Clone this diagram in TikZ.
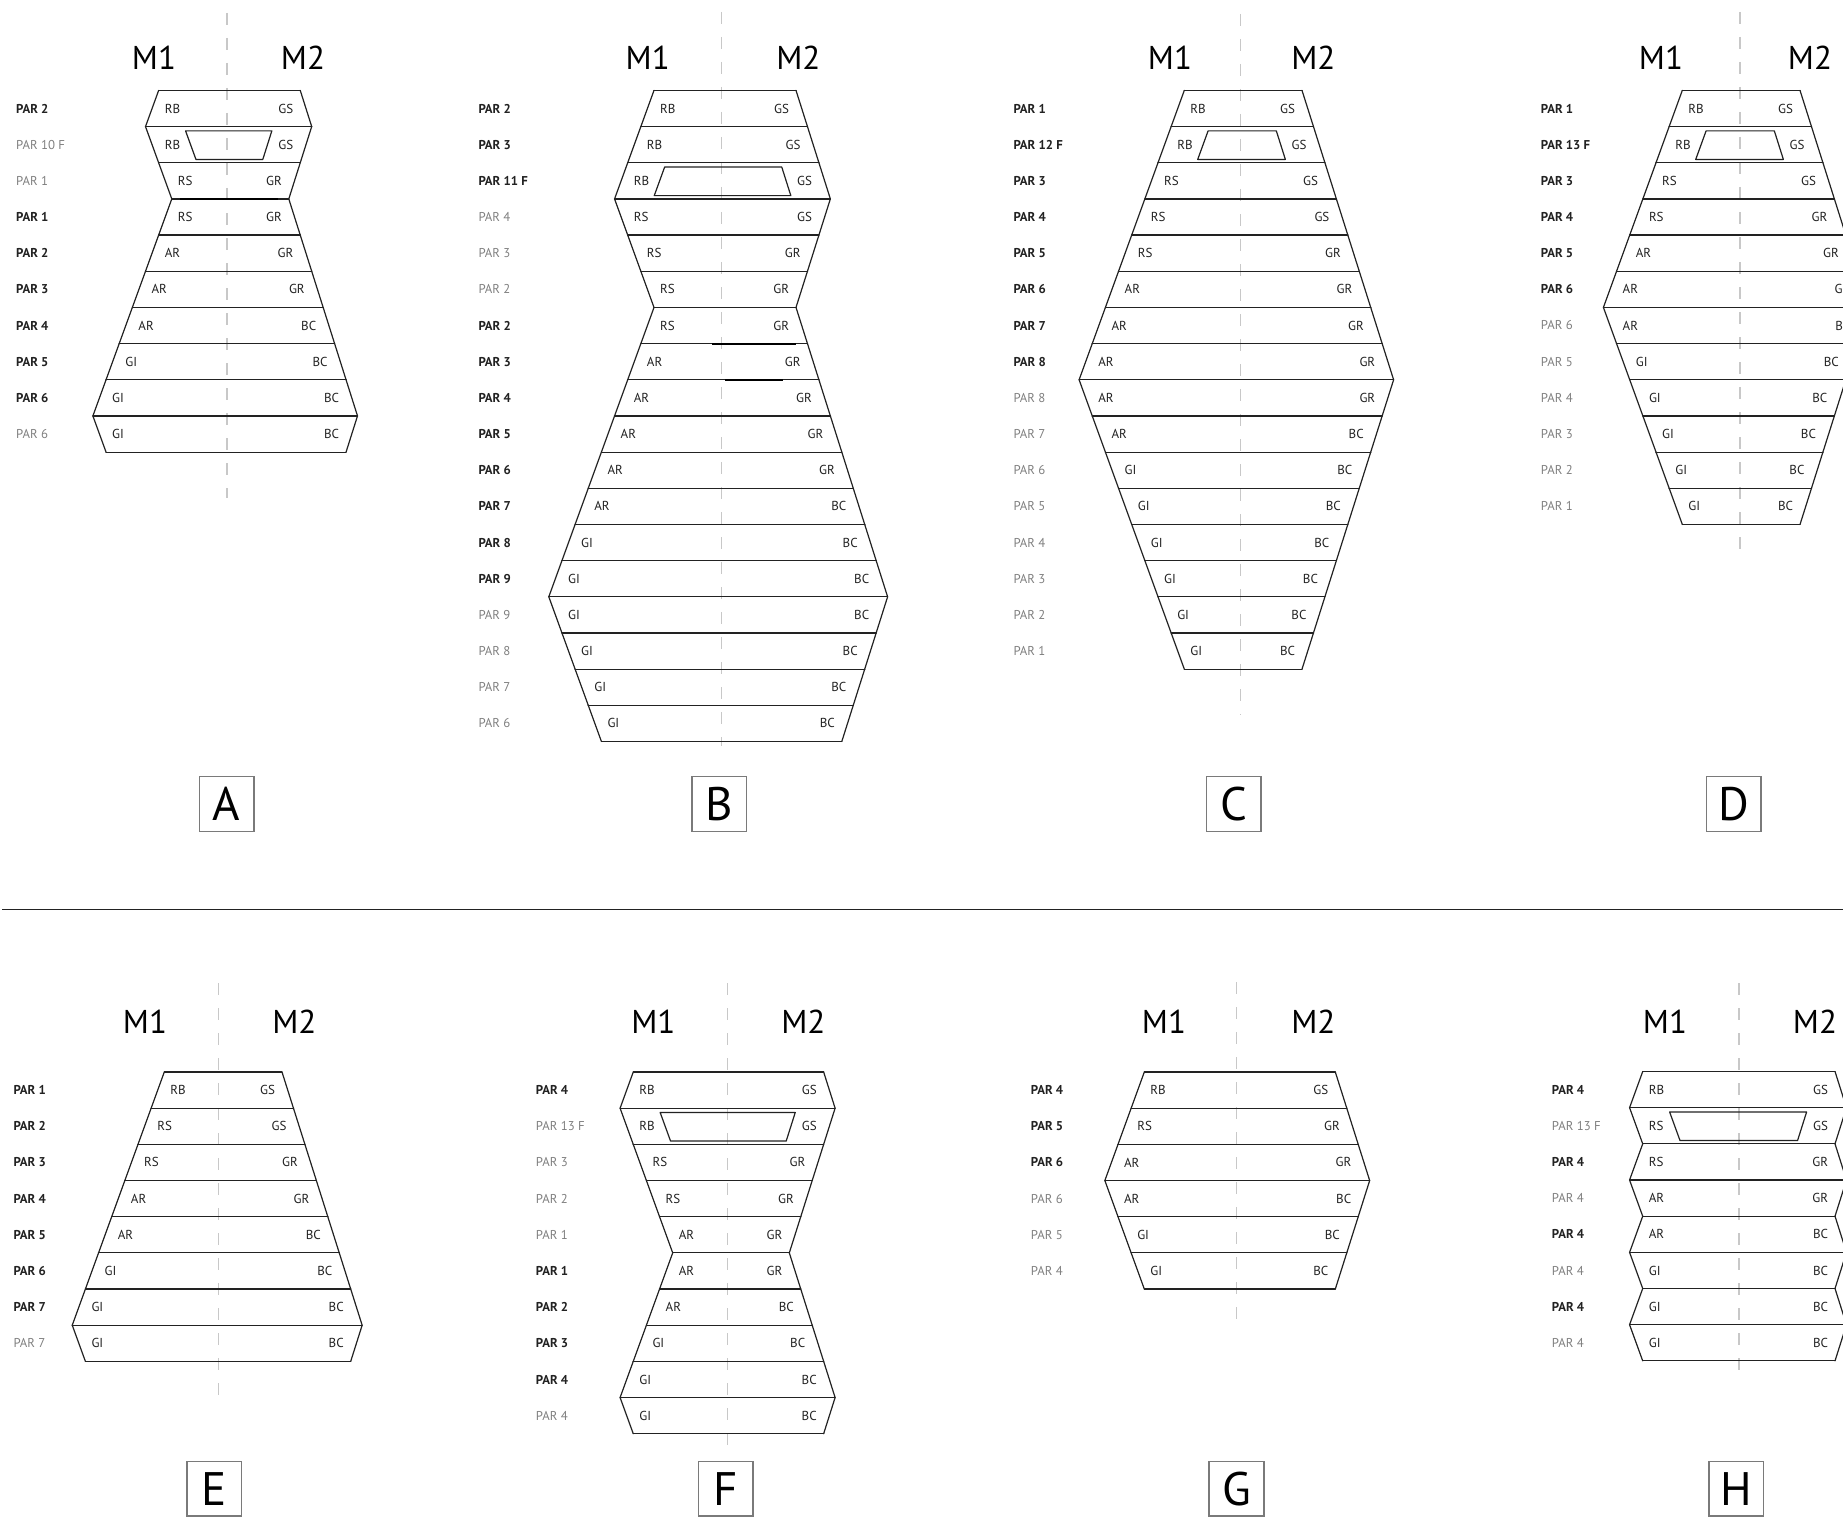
\documentclass[tikz,border=0pt]{standalone}
\usepackage{fontspec}
\setmainfont{PT Sans}
\usetikzlibrary{calc}
\definecolor{ink}{HTML}{222222}
\definecolor{labgrey}{HTML}{808080}
\definecolor{dashgrey}{HTML}{C8C8C8}
\definecolor{boxgrey}{HTML}{7A7A7A}
\def\stepL{13.15}
\def\stepR{11.45}
\def\rowh{36.17}
\def\txtgap{12.5}
\def\ft{0.119}
\def\fb{0.909}
\def\fin{38.5}
\newcommand\drawpanel[5]{%
  \foreach \lv [count=\i from 0] in {#5} {
    \coordinate (#1L\i) at ({#2-\lv*\stepL},{#4+\i*\rowh});
    \coordinate (#1R\i) at ({#3+\lv*\stepR},{#4+\i*\rowh});
    \draw[rowline] (#1L\i) -- (#1R\i);
    \ifnum\i>0
      \pgfmathtruncatemacro\j{\i-1}
      \draw[rowline] (#1L\j) -- (#1L\i);
      \draw[rowline] (#1R\j) -- (#1R\i);
    \fi
  }%
}
\newcommand\rowtexts[4]{%
  \foreach \lab/\st/\lt/\rt [count=\i from 0] in {#4} {
    \pgfmathtruncatemacro\k{\i+1}
    \node[\st] (#1P\i) at ({#2},{#3+(\i+0.5)*\rowh}) {\lab};
    \node[intext,anchor=west] (#1A\i) at ($(#1L\i)!0.5!(#1L\k)+(\txtgap,0)$) {\lt};
    \node[intext,anchor=east] (#1B\i) at ($(#1R\i)!0.5!(#1R\k)+(-\txtgap,0)$) {\rt};
  }%
}
\newcommand\fault[3]{%
  \draw[rowline] ($(#1L#2)!\ft!(#1L#3)+(\fin,0)$) -- ($(#1R#2)!\ft!(#1R#3)+(-\fin,0)$)
    -- ($(#1R#2)!\fb!(#1R#3)+(-\fin,0)$) -- ($(#1L#2)!\fb!(#1L#3)+(\fin,0)$) -- cycle;
}
\begin{document}
\begin{tikzpicture}[x=1pt,y=-1pt,
  rowline/.style={draw=ink,line width=1.2pt,line cap=round,line join=round},
  darkseg/.style={draw=black,line width=2pt},
  centerdash/.style={draw=dashgrey,line width=1.5pt,dash pattern=on 12pt off 13pt},
  parb/.style={anchor=west,inner sep=0pt,text=ink,font=\fontsize{12.8}{14}\selectfont\bfseries},
  parg/.style={anchor=west,inner sep=0pt,text=labgrey,font=\fontsize{12.8}{14}\selectfont},
  intext/.style={inner sep=0pt,text=ink,font=\fontsize{13}{14}\selectfont},
  mlab/.style={inner sep=0pt,text=black,font=\fontsize{33}{36}\selectfont},
  letterbox/.style={draw=boxgrey,line width=1.5pt,minimum width=54.6pt,minimum height=54.6pt,inner sep=0pt,text=black,font=\fontsize{47}{50}\selectfont},
  sepline/.style={draw=ink,line width=1.3pt}]
\useasboundingbox (0,0) rectangle (1843,1517);
\clip (0,0) rectangle (1843,1517);
\fill[white] (0,0) rectangle (1843,1517);

% centre dashed lines
\draw[centerdash] (227,13) -- (227,498);
\draw[centerdash] (721.7,12) -- (721.7,746);
\draw[centerdash] (1240.7,14) -- (1240.7,715);
\draw[centerdash] (1740,12) -- (1740,558);
\draw[centerdash] (218.3,983) -- (218.3,1402);
\draw[centerdash] (727.3,983) -- (727.3,1454);
\draw[centerdash] (1236.7,982) -- (1236.7,1327);
\draw[centerdash] (1739,983) -- (1739,1376);

% separator
\draw[sepline] (2.4,909.8) -- (1843,909.8);

% M labels
\node[mlab] (AM1) at (154,58) {M1};   \node[mlab] (AM2) at (303,58) {M2};
\node[mlab] (BM1) at (647.7,58) {M1}; \node[mlab] (BM2) at (798.3,58) {M2};
\node[mlab] (CM1) at (1170,58) {M1};  \node[mlab] (CM2) at (1313.3,58) {M2};
\node[mlab] (DM1) at (1661,58) {M1};  \node[mlab] (DM2) at (1810,58) {M2};
\node[mlab] (EM1) at (145,1022) {M1}; \node[mlab] (EM2) at (294.3,1022) {M2};
\node[mlab] (FM1) at (653.3,1022) {M1}; \node[mlab] (FM2) at (803.3,1022) {M2};
\node[mlab] (GM1) at (1164,1022) {M1}; \node[mlab] (GM2) at (1313.3,1022) {M2};
\node[mlab] (HM1) at (1665,1022) {M1}; \node[mlab] (HM2) at (1815,1022) {M2};

% Panel A
\drawpanel{A}{171.8}{288.8}{90.4}{1,2,1,0,1,2,3,4,5,6,5}
\fault{A}{1}{2}
\draw[darkseg] (180,198.9) -- (278.3,198.9);
\rowtexts{A}{16}{90.4}{PAR 2/parb/RB/GS, PAR 10 F/parg/RB/GS, PAR 1/parg/RS/GR, PAR 1/parb/RS/GR, PAR 2/parb/AR/GR, PAR 3/parb/AR/GR, PAR 4/parb/AR/BC, PAR 5/parb/GI/BC, PAR 6/parb/GI/BC, PAR 6/parg/GI/BC}

% Panel B
\drawpanel{B}{654}{796}{90.4}{0,1,2,3,2,1,0,1,2,3,4,5,6,7,8,7,6,5,4}
\fault{B}{2}{3}
\draw[darkseg] (711.7,343.6) -- (796,343.6);
\draw[darkseg] (725,379.8) -- (783.3,379.8);
\rowtexts{B}{478.3}{90.4}{PAR 2/parb/RB/GS, PAR 3/parb/RB/GS, PAR 11 F/parb/RB/GS, PAR 4/parg/RS/GS, PAR 3/parg/RS/GR, PAR 2/parg/RS/GR, PAR 2/parb/RS/GR, PAR 3/parb/AR/GR, PAR 4/parb/AR/GR, PAR 5/parb/AR/GR, PAR 6/parb/AR/GR, PAR 7/parb/AR/BC, PAR 8/parb/GI/BC, PAR 9/parb/GI/BC, PAR 9/parg/GI/BC, PAR 8/parg/GI/BC, PAR 7/parg/GI/BC, PAR 6/parg/GI/BC}

% Panel C
\drawpanel{C}{1184.3}{1302}{90.4}{0,1,2,3,4,5,6,7,8,7,6,5,4,3,2,1,0}
\fault{C}{1}{2}
\rowtexts{C}{1013.3}{90.4}{PAR 1/parb/RB/GS, PAR 12 F/parb/RB/GS, PAR 3/parb/RS/GS, PAR 4/parb/RS/GS, PAR 5/parb/RS/GR, PAR 6/parb/AR/GR, PAR 7/parb/AR/GR, PAR 8/parb/AR/GR, PAR 8/parg/AR/GR, PAR 7/parg/AR/BC, PAR 6/parg/GI/BC, PAR 5/parg/GI/BC, PAR 4/parg/GI/BC, PAR 3/parg/GI/BC, PAR 2/parg/GI/BC, PAR 1/parg/GI/BC}

% Panel D
\drawpanel{D}{1682.3}{1800}{90.4}{0,1,2,3,4,5,6,5,4,3,2,1,0}
\fault{D}{1}{2}
\rowtexts{D}{1540.7}{90.4}{PAR 1/parb/RB/GS, PAR 13 F/parb/RB/GS, PAR 3/parb/RS/GS, PAR 4/parb/RS/GR, PAR 5/parb/AR/GR, PAR 6/parb/AR/GR, PAR 6/parg/AR/BC, PAR 5/parg/GI/BC, PAR 4/parg/GI/BC, PAR 3/parg/GI/BC, PAR 2/parg/GI/BC, PAR 1/parg/GI/BC}

% Panel E
\drawpanel{E}{164.3}{282}{1072}{0,1,2,3,4,5,6,7,6}
\rowtexts{E}{13.3}{1072}{PAR 1/parb/RB/GS, PAR 2/parb/RS/GS, PAR 3/parb/RS/GR, PAR 4/parb/AR/GR, PAR 5/parb/AR/BC, PAR 6/parb/GI/BC, PAR 7/parb/GI/BC, PAR 7/parg/GI/BC}

% Panel F
\drawpanel{F}{672.7}{789.3}{1072}{3,4,3,2,1,0,1,2,3,4,3}
\fault{F}{1}{2}
\rowtexts{F}{535.7}{1072}{PAR 4/parb/RB/GS, PAR 13 F/parg/RB/GS, PAR 3/parg/RS/GR, PAR 2/parg/RS/GR, PAR 1/parg/AR/GR, PAR 1/parb/AR/GR, PAR 2/parb/AR/BC, PAR 3/parb/GI/BC, PAR 4/parb/GI/BC, PAR 4/parg/GI/BC}

% Panel G
\drawpanel{G}{1144.3}{1335.3}{1072}{0,1,2,3,2,1,0}
\rowtexts{G}{1030.7}{1072}{PAR 4/parb/RB/GS, PAR 5/parb/RS/GR, PAR 6/parb/AR/GR, PAR 6/parg/AR/BC, PAR 5/parg/GI/BC, PAR 4/parg/GI/BC}

% Panel H
\drawpanel{H}{1642.7}{1835}{1071.5}{0,1,0,1,0,1,0,1,0}
\fault{H}{1}{2}
\rowtexts{H}{1551.7}{1071.5}{PAR 4/parb/RB/GS, PAR 13 F/parg/RS/GS, PAR 4/parb/RS/GR, PAR 4/parg/AR/GR, PAR 4/parb/AR/BC, PAR 4/parg/GI/BC, PAR 4/parb/GI/BC, PAR 4/parg/GI/BC}

% letter boxes
\node[letterbox] (boxA) at (226.7,804) {A};
\node[letterbox] (boxB) at (719.3,804) {B};
\node[letterbox] (boxC) at (1233.6,804) {C};
\node[letterbox] (boxD) at (1733.7,804) {D};
\node[letterbox] (boxE) at (214.3,1488.8) {E};
\node[letterbox] (boxF) at (725.8,1488.8) {F};
\node[letterbox] (boxG) at (1236.5,1488.8) {G};
\node[letterbox] (boxH) at (1736.2,1488.8) {H};
\end{tikzpicture}
\end{document}
